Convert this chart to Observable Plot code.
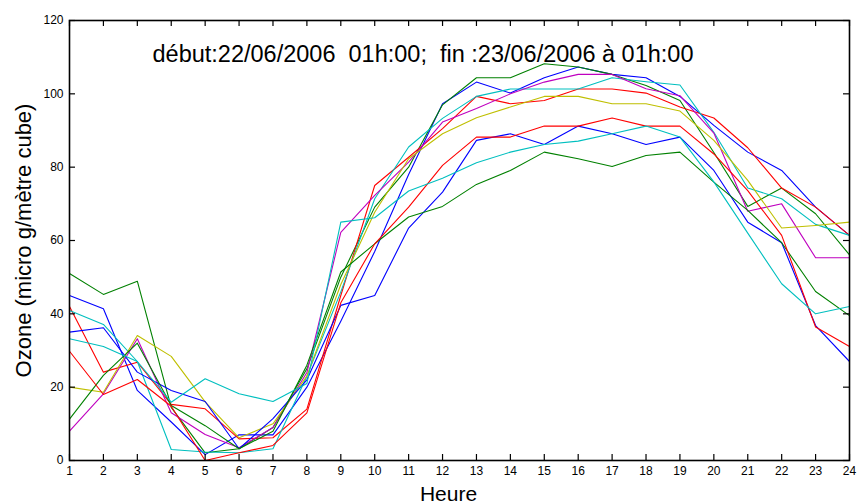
<!DOCTYPE html>
<html>
<head>
<meta charset="utf-8">
<script src="https://cdn.jsdelivr.net/npm/d3@7"></script>
<script src="https://cdn.jsdelivr.net/npm/@observablehq/plot@0.6"></script>
<style>
  html, body { margin: 0; padding: 0; background: #fff; }
  svg text { white-space: pre; }
</style>
</head>
<body>
<div id="chart"></div>
<script>
const hours = [1,2,3,4,5,6,7,8,9,10,11,12,13,14,15,16,17,18,19,20,21,22,23,24];
const xTicks = [1,2,3,4,5,6,7,8,9,10,11,12,13,14,15,16,17,18,19,20,21,22,23,24];
const yTicks = [0,20,40,60,80,100,120];

const titleText = "début:22/06/2006  01h:00;  fin :23/06/2006 à 01h:00";
const xLabel = "Heure";
const yLabel = "Ozone (micro g/mètre cube)";

const seriesNames = ["s1","s2","s3","s4","s5","s6","s7","s8","s9","s10"];
const seriesColors = ["#0000ff","#008000","#ff0000","#00bfbf","#bf00bf","#bfbf00","#0000ff","#008000","#ff0000","#00bfbf"];

const s1 = [45,41.4,19.1,10.5,1.6,7,7,20,38,57,78,97.3,103.2,100.2,104.4,107.3,105.3,104.4,99.3,91.4,84.1,79.1,69.1,61.4];
const s2 = [51,45.3,48.9,14.5,2.1,3.2,9,25,50,69.1,80,97,104.4,104.4,108.2,107.3,105.3,102.3,98.2,84,69.3,74.3,67.3,56.1];
const s3 = [42,24.1,26.8,15.3,14.1,5.9,6.2,14,45,75,82.7,90.5,99.3,97.3,98.2,101.3,101.3,100.2,96.4,93.4,85.3,74.3,69.1,61.4];
const s4 = [40.9,37.1,27,3,2.3,2.1,3.2,23,46,71.4,85.5,93.3,99.3,101.3,101.3,101.3,104.4,103.3,102.4,89.5,74.3,71.4,64.4,61.4];
const s5 = [8,18.2,33.2,13,7.1,3.5,9,24,62.2,72.3,81.4,92.3,96,100,103.2,105.3,105.3,101.4,99.5,89.3,68,70,55.3,55.3];
const s6 = [20,18.6,34.1,28.4,16,6.2,10,23,48,67.7,82.3,89.1,93.5,96.4,99.3,99.3,97.3,97.3,95.3,87.3,76.4,63.4,64.1,65];
const s7 = [35,36.2,24.1,19.1,16.1,3.2,11.4,22,42.3,45,63.4,73.2,87.3,89.1,86.2,91.2,89.1,86.2,88.2,79.1,65,59.4,36.8,27];
const s8 = [11.3,23.2,32,15,9.5,3.2,8,26,51.4,59.1,66.4,69.3,75.3,79.1,84.1,82.3,80.2,83.2,84.1,75.9,68.2,59.4,46.1,39.5];
const s9 = [29.8,18,22.1,14.8,0,2.1,4.1,13,43,59.1,69.1,80.5,88.2,88.2,91.2,91.2,93.4,91.2,91.2,83.6,73.6,61.4,36.4,31.1];
const s10 = [33.2,31.1,27,15.9,22.3,18.2,16.1,21,65,66.2,73.5,77,81.2,84.1,86.2,87.1,89.1,91.2,88.2,76,62,48.2,40,42];

const seriesValues = [s1,s2,s3,s4,s5,s6,s7,s8,s9,s10];
const rows = [];
seriesValues.forEach((vals, i) => {
  vals.forEach((v, j) => rows.push({hour: hours[j], value: v, series: seriesNames[i]}));
});

const W = 857, H = 504;
const mL = 69, mR = 8, mT = 20, mB = 44;
const innerW = W - mL - mR, innerH = H - mT - mB;
const tickLen = 6;

const chart = Plot.plot({
  width: W, height: H,
  marginLeft: mL, marginRight: mR, marginTop: mT, marginBottom: mB,
  style: {fontFamily: "'Liberation Sans', Arial, sans-serif", background: "white", color: "black"},
  x: {domain: [1, 24]},
  y: {domain: [0, 120]},
  color: {domain: seriesNames, range: seriesColors},
  marks: [
    Plot.lineY(rows, {x: "hour", y: "value", z: "series", stroke: "series", strokeWidth: 1.1}),
    Plot.tickX(xTicks, {x: d => d, insetTop: innerH - tickLen, stroke: "black", strokeWidth: 1.2}),
    Plot.tickX(xTicks, {x: d => d, insetBottom: innerH - tickLen, stroke: "black", strokeWidth: 1.2}),
    Plot.tickY(yTicks, {y: d => d, insetRight: innerW - tickLen, stroke: "black", strokeWidth: 1.2}),
    Plot.tickY(yTicks, {y: d => d, insetLeft: innerW - tickLen, stroke: "black", strokeWidth: 1.2}),
    Plot.frame({stroke: "black", strokeWidth: 1.6}),
    Plot.axisX(xTicks, {tickSize: 0, tickPadding: 6, fontSize: 12, label: null, tickFormat: d => String(d)}),
    Plot.axisY(yTicks, {tickSize: 0, tickPadding: 6, fontSize: 12, label: null, tickFormat: d => String(d)}),
    Plot.text([titleText], {frameAnchor: "top-left", dx: 83, dy: 25, fontSize: 23.5, textAnchor: "start"}),
    Plot.text([xLabel], {frameAnchor: "bottom", dx: -11, dy: 34, fontSize: 21, lineAnchor: "middle"}),
    Plot.text([yLabel], {frameAnchor: "left", dx: -46, rotate: -90, fontSize: 22, textAnchor: "middle"})
  ]
});
document.getElementById("chart").appendChild(chart);
</script>
</body>
</html>
